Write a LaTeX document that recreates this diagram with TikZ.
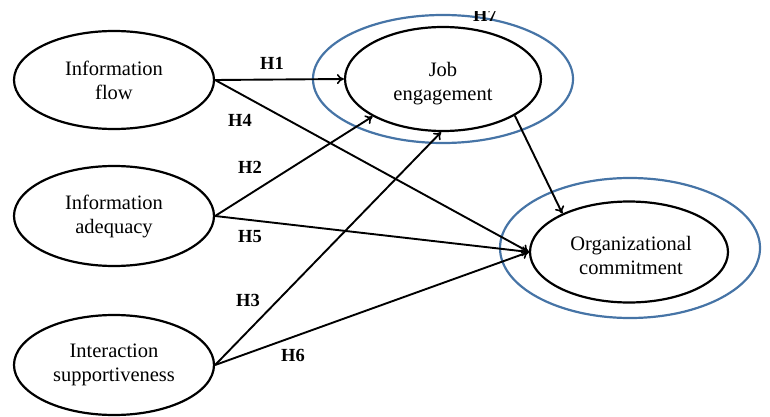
\documentclass[tikz,border=0pt]{standalone}
\usepackage{fontspec}
\setmainfont{Liberation Serif}
\usetikzlibrary{shapes.geometric,arrows.meta}
\definecolor{ringblue}{RGB}{70,116,166}
\tikzset{
  construct/.style={draw=black, line width=2.2pt, ellipse, inner sep=0pt, align=center,
    font=\fontsize{20.5}{24}\selectfont, fill=none},
  ring/.style={draw=ringblue, line width=2.2pt, ellipse, inner sep=0pt},
  path/.style={line width=1.9pt, -{To[length=7pt,width=10pt,line width=1.6pt]}},
  hyp/.style={font=\fontsize{18.5}{20}\selectfont\bfseries, inner sep=0pt}
}
\begin{document}
\begin{tikzpicture}[x=1pt,y=-1pt]
\useasboundingbox (0,0) rectangle (770,417);
\clip (0,12) rectangle (770,417);
% rings
\node[ring, minimum width=260pt, minimum height=128pt] (JEring) at (443,79) {};
\node[ring, minimum width=260pt, minimum height=140pt] (OCring) at (630,248) {};
% constructs
\node[construct, minimum width=200pt, minimum height=98pt] (IF) at (114,80) {Information\\flow};
\node[construct, minimum width=200pt, minimum height=100pt] (IA) at (114,216) {Information\\adequacy};
\node[construct, minimum width=200pt, minimum height=100pt] (IS) at (114,365) {Interaction\\supportiveness};
\node[construct, minimum width=196pt, minimum height=104pt] (JE) at (443,79) {};
\node[align=center, font=\fontsize{20.5}{24}\selectfont, inner sep=0pt] (JEtext) at (443,84) {Job\\engagement};
\node[construct, minimum width=198pt, minimum height=101pt] (OC) at (629,252) {};
\node[align=center, font=\fontsize{20.5}{24}\selectfont, inner sep=0pt] (OCtext) at (631,255) {Organizational\\commitment};
% paths
\draw[path] (IF.east) -- (JE.west);
\draw[path] (IF.east) -- (OC.west);
\draw[path] (IA.east) -- (JE.208);
\draw[path] (IA.east) -- (OC.west);
\draw[path] (IS.east) -- (JE.268);
\draw[path] (IS.east) -- (OC.west);
\draw[path] (JE.333) -- (OC.150);
% labels
\node[hyp] (H1) at (272,63) {H1};
\node[hyp] (H4) at (240,120) {H4};
\node[hyp] (H2) at (250,167) {H2};
\node[hyp] (H5) at (250,237) {H5};
\node[hyp] (H3) at (248,300) {H3};
\node[hyp] (H6) at (293,355) {H6};
\node[hyp] (H7) at (485,15) {H7};
\end{tikzpicture}
\end{document}
